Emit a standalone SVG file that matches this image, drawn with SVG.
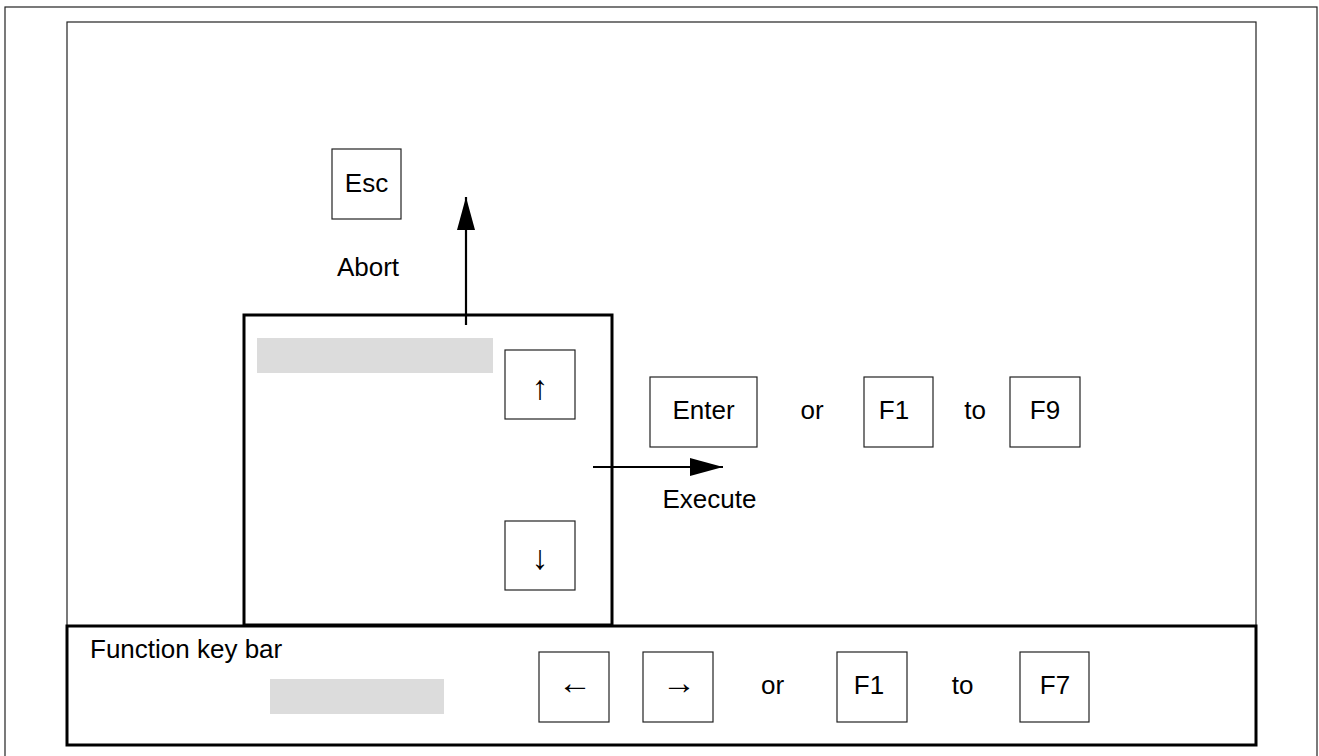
<svg xmlns="http://www.w3.org/2000/svg" width="1319" height="756" viewBox="0 0 1319 756">
  <style>
    .frame { fill: none; stroke: #222; stroke-width: 1.2; }
    .thick { fill: #fff; stroke: #000; stroke-width: 3; }
    .key { fill: #fff; stroke: #222; stroke-width: 1.2; }
    .bar { fill: #dcdcdc; stroke: none; }
    .t { font-family: "Liberation Sans", Arial, sans-serif; font-size: 26px; fill: #000; }
    .arr { font-family: "Liberation Sans", Arial, sans-serif; font-size: 34px; fill: #000; text-anchor: middle; }
    .c { text-anchor: middle; }
    .conn { stroke: #000; stroke-width: 2.2; fill: none; }
  </style>
  <defs>
    <marker id="ah" markerWidth="34" markerHeight="20" refX="33" refY="9" orient="auto" markerUnits="userSpaceOnUse">
      <path d="M0,0 L33,9 L0,18 Z" fill="#000"/>
    </marker>
  </defs>
  <rect width="1319" height="756" fill="#fff"/>
  <g id="outer-frame">
    <rect class="frame" x="5" y="7" width="1312" height="760"/>
  </g>
  <g id="screen">
    <rect class="frame" x="67" y="22" width="1189" height="604"/>
  </g>
  <g id="menu">
    <rect class="thick" x="244" y="315" width="368" height="310"/>
    <rect class="bar" x="257" y="338" width="236" height="35"/>
  </g>
  <g id="key-up">
    <rect class="key" x="505" y="350" width="70" height="69"/>
    <text class="arr" x="540" y="399">↑</text>
  </g>
  <g id="key-down">
    <rect class="key" x="505" y="521" width="70" height="69"/>
    <text class="arr" x="540" y="569">↓</text>
  </g>
  <g id="function-key-bar">
    <rect class="thick" x="67" y="626" width="1189" height="119"/>
    <text class="t" x="90" y="658">Function key bar</text>
    <rect class="bar" x="270" y="679" width="174" height="35"/>
  </g>
  <g id="key-esc">
    <rect class="key" x="332" y="149" width="69" height="70"/>
    <text class="t c" x="366.5" y="192">Esc</text>
  </g>
  <g id="label-abort">
    <text class="t c" x="368" y="276">Abort</text>
  </g>
  <g id="key-enter">
    <rect class="key" x="650" y="377" width="107" height="70"/>
    <text class="t c" x="703.5" y="419">Enter</text>
  </g>
  <g id="label-or-top">
    <text class="t c" x="812" y="419">or</text>
  </g>
  <g id="key-f1-top">
    <rect class="key" x="864" y="377" width="69" height="70"/>
    <text class="t c" x="894" y="419">F1</text>
  </g>
  <g id="label-to-top">
    <text class="t c" x="975" y="419">to</text>
  </g>
  <g id="key-f9">
    <rect class="key" x="1010" y="377" width="70" height="70"/>
    <text class="t c" x="1045" y="419">F9</text>
  </g>
  <g id="label-execute">
    <text class="t c" x="709.5" y="508">Execute</text>
  </g>
  <g id="key-left">
    <rect class="key" x="539" y="652" width="70" height="70"/>
    <text class="arr" x="575" y="694">←</text>
  </g>
  <g id="key-right">
    <rect class="key" x="643" y="652" width="70" height="70"/>
    <text class="arr" x="679" y="694">→</text>
  </g>
  <g id="label-or-bottom">
    <text class="t c" x="772.5" y="694">or</text>
  </g>
  <g id="key-f1-bottom">
    <rect class="key" x="837" y="652" width="70" height="70"/>
    <text class="t c" x="869" y="694">F1</text>
  </g>
  <g id="label-to-bottom">
    <text class="t c" x="962.5" y="694">to</text>
  </g>
  <g id="key-f7">
    <rect class="key" x="1020" y="652" width="69" height="70"/>
    <text class="t c" x="1055" y="694">F7</text>
  </g>
  <g id="connectors">
    <line class="conn" x1="466" y1="325" x2="466" y2="197" marker-end="url(#ah)"/>
    <line class="conn" x1="593" y1="467" x2="723" y2="467" marker-end="url(#ah)"/>
  </g>
</svg>
